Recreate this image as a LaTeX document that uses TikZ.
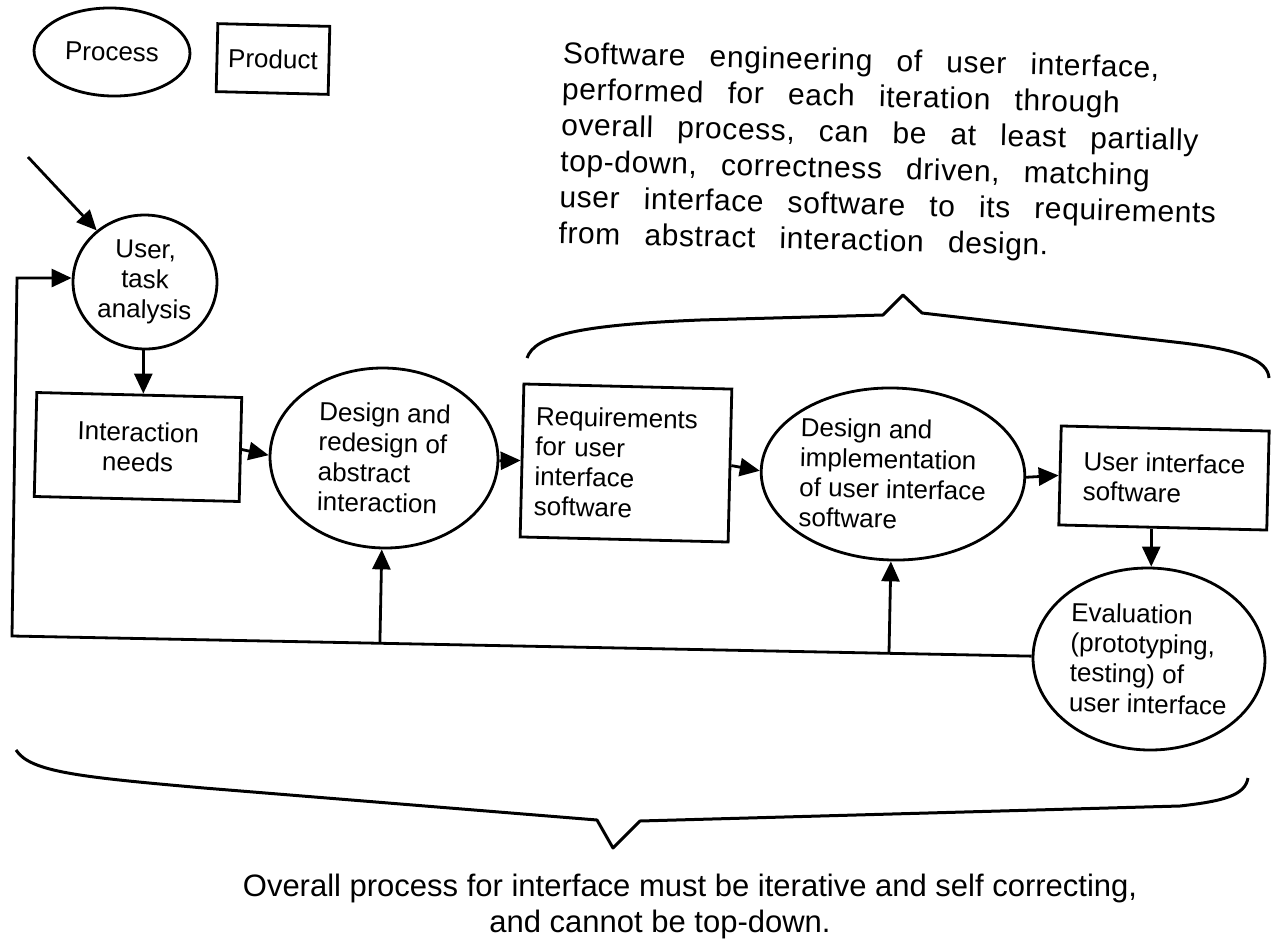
\documentclass[tikz,border=0pt]{standalone}
\usepackage{fontspec}
\setmainfont{Liberation Sans}
\newfontfamily\notefont[WordSpace=2.7,LetterSpace=2]{Liberation Sans}
\usetikzlibrary{shapes.geometric,arrows.meta,calc}

\begin{document}
\begin{tikzpicture}[
  x=0.5pt, y=-0.5pt,
  line width=1.4pt,
  proc/.style={ellipse, draw, inner sep=0pt, rotate=-1.4, font=\fontsize{13}{15}\selectfont},
  prod/.style={rectangle, draw, inner sep=0pt, rotate=-1.4, font=\fontsize{13}{15}\selectfont},
  remark/.style={inner sep=0pt, rotate=-1.4, align=left, font=\notefont\fontsize{15}{18}\selectfont},
  summary/.style={inner sep=0pt, align=center, font=\fontsize{15.5}{18}\selectfont},
  arr/.style={-{Triangle[length=10pt,width=9pt]}},
  brace/.style={line width=1.5pt, line join=round}
  ]

  \useasboundingbox (0,0) rectangle (1271,944);

  % key
  \node[proc, minimum width=78pt, minimum height=44pt] (key1) at (112,52) {Process};
  \node[prod, minimum width=56pt, minimum height=34pt] (key2) at (273,59) {Product};

  % processes and products
  \node[proc, minimum width=72pt, minimum height=67pt, align=center] (user) at (145,282) {User,\\task\\analysis};
  \node[prod, minimum width=102.5pt, minimum height=52pt, align=center] (needs) at (138,447) {Interaction\\needs};
  \node[proc, minimum width=114pt, minimum height=90pt, align=left] (design) at (384,458) {Design and\\redesign of\\abstract\\interaction};
  \node[prod, minimum width=104pt, minimum height=76.5pt, align=left, text width=91pt] (req) at (626,463) {Requirements\\for user\\interface\\software};
  \node[proc, minimum width=131.5pt, minimum height=86pt, align=left] (impl) at (893,474) {Design and\\implementation\\of user interface\\software};
  \node[prod, minimum width=104pt, minimum height=49.5pt, align=left] (ui) at (1164,478) {User interface\\software};
  \node[proc, minimum width=116pt, minimum height=91pt, align=left] (eval) at (1149,659) {Evaluation\\(prototyping,\\testing) of\\user interface};

  % notes
  \node[remark, anchor=north west] (swnote) at (562,40) {Software engineering of user interface,\\performed for each iteration through\\overall process, can be at least partially\\top-down, correctness driven, matching\\user interface software to its requirements\\from abstract interaction design.};
  \node[summary] (allnote) at (690,906) {Overall process for interface must be iterative and self correcting,\\\hspace*{-30pt}and cannot be top-down.};

  \coordinate (start) at (28,157);
  \coordinate (fbl) at (12,636);
  \coordinate (fbt) at (17,278);

  \draw[arr] (start) -- (user);
  \draw[arr] (user.south) -- (user.south |- needs.north);
  \draw[arr] (needs.east) -- (design.west);
  \draw[arr] (design.east) -- (req.west);
  \draw[arr] (req.east) -- (impl.west);
  \draw[arr] (impl.east) -- (ui.west);
  \draw[arr] (ui.south -| eval.north) -- (eval.north);

  % feedback loop
  \draw[arr] (eval.west) -- (fbl) -- (fbt) -- (fbt -| user.west);
  \draw[arr] ($(fbl)!(design.south)!(eval.west)$) -- (design.south);
  \draw[arr] ($(fbl)!(impl.south)!(eval.west)$) -- (impl.south);

  % braces
  \draw[brace] (527,358) .. controls (535,335) and (580,325) .. (700,320) -- (883,315) -- (903,295) -- (922,313) -- (1183,343) .. controls (1240,350) and (1268,360) .. (1269,378);
  \draw[brace] (16,750) .. controls (30,772) and (80,777) .. (204,788) -- (597,820) -- (613,848) -- (640,821) -- (1180,806) .. controls (1225,801) and (1245,795) .. (1248,778);

\end{tikzpicture}
\end{document}
